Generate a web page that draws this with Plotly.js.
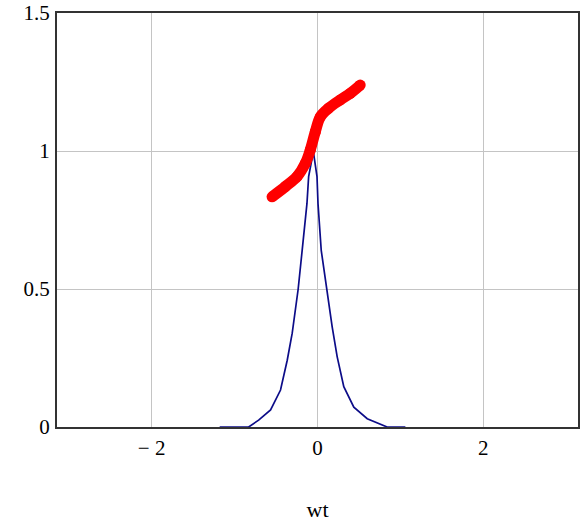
<!DOCTYPE html>
<html>
<head>
<meta charset="utf-8">
<script src="https://cdn.plot.ly/plotly-3.0.1.min.js"></script>
<style>html,body{margin:0;padding:0;background:#fff;}#chart{width:583px;height:522px;}</style>
</head>
<body>
<div id="chart"></div>
<script>
// Blue pulse curve
const blueX = [-1.18, -0.83, -0.71, -0.566, -0.446, -0.365, -0.305, -0.233, -0.185, -0.127, -0.107, -0.05, -0.006, 0.006, 0.045, 0.108, 0.177, 0.237, 0.317, 0.438, 0.6, 0.84, 1.06];
const blueY = [0, 0, 0.025, 0.062, 0.134, 0.242, 0.34, 0.5, 0.64, 0.81, 0.907, 0.998, 0.907, 0.81, 0.64, 0.5, 0.363, 0.255, 0.146, 0.072, 0.03, 0, 0];
// Red thick curve
const redX = [-0.548, -0.388, -0.247, -0.147, -0.087, -0.026, 0.034, 0.134, 0.274, 0.395, 0.515];
const redY = [0.834, 0.871, 0.907, 0.955, 1.004, 1.07, 1.124, 1.155, 1.185, 1.209, 1.239];
// Ticks
const xTickVals = [-2, 0, 2];
const xTickText = ["\u2212 2", "0", "2"];
const yTickVals = [0, 0.5, 1, 1.5];
const yTickText = ["0", "0.5", "1", "1.5"];
const xTitle = "wt";

const fontFam = "'Liberation Serif', 'Times New Roman', serif";

const traces = [
  {
    x: blueX, y: blueY, type: 'scatter', mode: 'lines',
    line: {color: '#0c0c88', width: 1.7},
    hoverinfo: 'skip', showlegend: false
  },
  {
    x: redX, y: redY, type: 'scatter', mode: 'lines+markers',
    line: {color: '#ff0000', width: 11, shape: 'spline'},
    marker: {color: '#ff0000', size: 11},
    hoverinfo: 'skip', showlegend: false
  }
];

const layout = {
  width: 583, height: 522,
  margin: {l: 57, r: 5, t: 13, b: 95, pad: 0},
  paper_bgcolor: '#ffffff', plot_bgcolor: '#ffffff',
  font: {family: fontFam, size: 21, color: '#000'},
  showlegend: false,
  xaxis: {
    range: [-Math.PI, Math.PI],
    tickvals: xTickVals, ticktext: xTickText,
    showgrid: true, gridcolor: '#c4c4c4', gridwidth: 1,
    zeroline: false,
    showline: true, mirror: true, linecolor: '#333', linewidth: 2,
    ticks: '', ticklabelstandoff: 1,
    tickfont: {family: fontFam, size: 21, color: '#000'},
    title: {text: xTitle, font: {family: fontFam, size: 22, color: '#000'}, standoff: 43},
    automargin: false, fixedrange: true
  },
  yaxis: {
    range: [0, 1.5],
    tickvals: yTickVals, ticktext: yTickText,
    showgrid: true, gridcolor: '#c4c4c4', gridwidth: 1,
    zeroline: false,
    showline: true, mirror: true, linecolor: '#333', linewidth: 2,
    ticks: '', ticklabelstandoff: 1,
    tickfont: {family: fontFam, size: 21, color: '#000'},
    automargin: false, fixedrange: true
  }
};

Plotly.newPlot('chart', traces, layout, {displayModeBar: false, staticPlot: true});
</script>
</body>
</html>
